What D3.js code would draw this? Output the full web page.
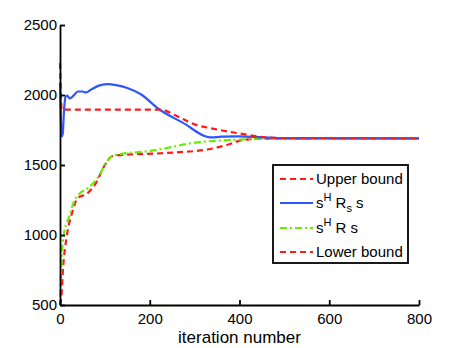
<!DOCTYPE html>
<html>
  <head>
    <script src="https://unpkg.com/d3@7/dist/d3.min.js"></script>
    <style>
      body { margin: 0; background: #fff; }
      text { font-family: "Liberation Sans", Arial, sans-serif; }
    </style>
  </head>
  <body>
    <svg width="463" height="348"></svg>
    <script>
      // data
      const upperIter = [0, 4, 225, 260, 300, 340, 400, 450, 500, 800];
      const upperVal  = [2230, 1895, 1895, 1850, 1790, 1760, 1725, 1700, 1692, 1690];

      const sRsIter = [0, 2, 4, 6, 9, 12, 16, 22, 30, 40, 50, 58, 70, 85, 105, 125, 150, 180, 220, 280, 320, 335, 360, 400, 450, 500, 800];
      const sRsVal  = [2090, 1820, 1705, 1720, 1890, 1985, 1995, 1975, 1995, 2025, 2025, 2018, 2040, 2065, 2077, 2070, 2050, 2005, 1900, 1790, 1710, 1697, 1702, 1705, 1698, 1692, 1690];

      const sRIter = [0, 2, 5, 10, 18, 33, 45, 63, 85, 107, 122, 200, 312, 386, 450, 800];
      const sRVal  = [560, 700, 900, 1030, 1110, 1250, 1300, 1336, 1414, 1536, 1571, 1600, 1664, 1679, 1688, 1690];

      const lowerIter = [0, 3, 7, 15, 27, 40, 60, 80, 100, 115, 130, 238, 334, 372, 408, 450, 800];
      const lowerVal  = [500, 560, 770, 990, 1160, 1265, 1295, 1370, 1500, 1560, 1570, 1586, 1614, 1643, 1679, 1688, 1690];

      const xTicks = [0, 200, 400, 600, 800];
      const yTicks = [500, 1000, 1500, 2000, 2500];

      const svg = d3.select("svg");
      const margin = {top: 25, right: 44, bottom: 43, left: 60};
      const width = 463 - margin.left - margin.right;
      const height = 348 - margin.top - margin.bottom;

      const g = svg.append("g").attr("transform", `translate(${margin.left},${margin.top})`);

      const x = d3.scaleLinear().domain([0, 800]).range([0, width]);
      const y = d3.scaleLinear().domain([500, 2500]).range([height, 0]);

      const line = d3.line()
        .x(d => x(d[0]))
        .y(d => y(d[1]))
        .curve(d3.curveMonotoneX);

      const series = [
        {name: "lower", iter: lowerIter, val: lowerVal, color: "#ff1a1a", dash: "6,4"},
        {name: "sR", iter: sRIter, val: sRVal, color: "#66ee00", dash: "7,3,2,3"},
        {name: "sRs", iter: sRsIter, val: sRsVal, color: "#2f55ff", dash: null},
        {name: "upper", iter: upperIter, val: upperVal, color: "#ff1a1a", dash: "6,4"}
      ];

      g.selectAll("path.series")
        .data(series)
        .enter()
        .append("path")
          .attr("class", "series")
          .attr("fill", "none")
          .attr("stroke", d => d.color)
          .attr("stroke-width", 2.2)
          .attr("stroke-dasharray", d => d.dash)
          .attr("d", d => line(d.iter.map((t, i) => [t, d.val[i]])));

      // axes, ticks inside
      const xAxis = g.append("g")
        .attr("transform", `translate(0,${height})`)
        .call(d3.axisBottom(x).tickValues(xTicks).tickFormat(d3.format("d"))
          .tickSizeInner(-5).tickSizeOuter(0).tickPadding(8.5));
      const yAxis = g.append("g")
        .call(d3.axisLeft(y).tickValues(yTicks).tickFormat(d3.format("d"))
          .tickSizeInner(-5).tickSizeOuter(0).tickPadding(3));

      [xAxis, yAxis].forEach(a => {
        a.select(".domain").attr("stroke", "#000").attr("stroke-width", 1.8);
        a.selectAll(".tick line").attr("stroke", "#000").attr("stroke-width", 1.8);
        a.selectAll(".tick text")
          .attr("fill", "#000")
          .style("font-size", "15px")
          .style("font-family", "'Liberation Sans', Arial, sans-serif");
      });

      svg.append("text")
        .attr("x", margin.left + width / 2)
        .attr("y", 343)
        .attr("text-anchor", "middle")
        .style("font-size", "17px")
        .text("iteration number");

      // legend
      const legend = svg.append("g").attr("transform", "translate(273,165)");
      legend.append("rect")
        .attr("width", 135).attr("height", 98)
        .attr("fill", "#fff").attr("stroke", "#000").attr("stroke-width", 1.8);

      const legendItems = [
        {s: series[3], y: 14, parts: [["Upper bound", 0]]},
        {s: series[2], y: 38, parts: [["s", 0], ["H", 1], [" R", 0], ["s", -1], [" s", 0]]},
        {s: series[1], y: 63, parts: [["s", 0], ["H", 1], [" R s", 0]]},
        {s: series[0], y: 87, parts: [["Lower bound", 0]]}
      ];

      legendItems.forEach(it => {
        legend.append("line")
          .attr("x1", 7).attr("x2", 40)
          .attr("y1", it.y).attr("y2", it.y)
          .attr("stroke", it.s.color).attr("stroke-width", 2)
          .attr("stroke-dasharray", it.s.dash);
        const t = legend.append("text")
          .attr("x", 43).attr("y", it.y + 5)
          .style("font-size", "15px");
        it.parts.forEach(p => {
          const ts = t.append("tspan").text(p[0]);
          if (p[1] !== 0) ts.style("font-size", "11px");
          ts.datum(p[1]);
        });
        // shift sub/superscripts and come back to the baseline
        t.selectAll("tspan").each(function(d, i, nodes) {
          const prev = i > 0 ? d3.select(nodes[i - 1]).datum() : 0;
          const shift = (prev === 1 ? 7 : prev === -1 ? -4 : 0) + (d === 1 ? -7 : d === -1 ? 4 : 0);
          if (shift) d3.select(this).attr("dy", shift);
        });
      });
    </script>
  </body>
</html>
